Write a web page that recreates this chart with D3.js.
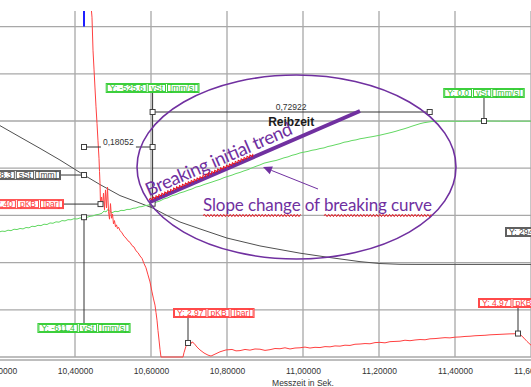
<!DOCTYPE html>
<html>
<head>
<meta charset="utf-8">
<script src="https://cdn.jsdelivr.net/npm/d3@7"></script>
<style>
  html, body { margin: 0; padding: 0; background: #fff; }
  svg { display: block; }
  .tag { font-family: "Liberation Sans", Arial, sans-serif; font-size: 8.5px; }
</style>
</head>
<body>
<svg id="chart" width="531" height="387"></svg>
<script>
// ---- time axis (s) and grid steps ----
const timeTicks = [10.2, 10.4, 10.6, 10.8, 11.0, 11.2, 11.4, 11.6];
const pressureGrid = [0, 10, 20, 30, 40, 50, 60, 70];

// ---- pKB brake pressure [bar] over time [s] ----
const pressureKB = [
  [10.4400, 76.5], [10.4447, 72.0], [10.4474, 65.0], [10.4500, 61.0], [10.4526, 57.0],
  [10.4553, 53.0], [10.4579, 49.5], [10.4605, 45.8], [10.4632, 42.0], [10.4645, 39.3],
  [10.4658, 36.8], [10.4671, 32.4], [10.4699, 33.9], [10.4724, 31.8], [10.4750, 34.7],
  [10.4776, 31.2], [10.4803, 35.4], [10.4829, 31.6], [10.4855, 36.0], [10.4882, 30.8],
  [10.4908, 29.2], [10.4934, 32.5], [10.4961, 29.4], [10.4987, 30.3], [10.5013, 28.2],
  [10.5039, 28.9], [10.5066, 27.6], [10.5092, 28.0], [10.5118, 27.2], [10.5145, 27.5],
  [10.5184, 26.8], [10.5237, 26.3], [10.5289, 25.6], [10.5342, 25.2], [10.5395, 24.6],
  [10.5447, 24.3], [10.5500, 23.6], [10.5553, 23.3], [10.5605, 22.5], [10.5658, 22.1],
  [10.5711, 21.4], [10.5763, 20.9], [10.5816, 19.8], [10.5868, 18.9], [10.5921, 17.4],
  [10.5974, 15.9], [10.6026, 13.8], [10.6066, 12.3], [10.6105, 11.0], [10.6132, 9.4],
  [10.6158, 7.8], [10.6184, 5.6], [10.6211, 3.6], [10.6237, 1.6], [10.6263, 0.0],
  [10.6842, 0.0], [10.6868, 0.9], [10.6921, 2.3], [10.6974, 2.97], [10.7026, 2.5],
  [10.7079, 3.2], [10.7132, 2.9], [10.7211, 2.1], [10.7289, 1.5], [10.7395, 0.85],
  [10.7500, 0.4], [10.7579, 0.2], [10.7684, 0.6], [10.7816, 1.1], [10.7974, 1.5],
  [10.8132, 1.6], [10.8237, 1.3], [10.8342, 1.35], [10.8474, 1.6], [10.8605, 1.45],
  [10.8737, 1.7], [10.8868, 1.65], [10.9000, 1.4], [10.9132, 1.55], [10.9263, 1.8],
  [10.9395, 1.75], [10.9526, 1.95], [10.9658, 1.7], [10.9789, 1.9], [10.9921, 1.95],
  [11.0053, 2.1], [11.0184, 1.9], [11.0316, 2.05], [11.0447, 2.0], [11.0579, 2.2],
  [11.0711, 2.15], [11.0842, 2.35], [11.0974, 2.3], [11.1105, 2.5], [11.1237, 2.45],
  [11.1368, 2.7], [11.1500, 2.75], [11.1632, 2.85], [11.1763, 2.8], [11.1895, 3.05],
  [11.2026, 3.1], [11.2158, 3.0], [11.2289, 3.25], [11.2421, 3.3], [11.2553, 3.35],
  [11.2684, 3.55], [11.2816, 3.45], [11.2947, 3.6], [11.3079, 3.7], [11.3211, 3.65],
  [11.3342, 3.85], [11.3474, 3.9], [11.3605, 4.0], [11.3737, 4.1], [11.3868, 4.05],
  [11.4000, 4.2], [11.4132, 4.25], [11.4263, 4.35], [11.4395, 4.4], [11.4526, 4.5],
  [11.4658, 4.55], [11.4789, 4.6], [11.4921, 4.7], [11.5053, 4.75], [11.5184, 4.8],
  [11.5316, 4.85], [11.5447, 4.9], [11.5553, 4.92], [11.5658, 4.97], [11.5737, 4.6],
  [11.5816, 4.0], [11.5895, 3.3], [11.6000, 2.5], [11.6100, 1.8]
];

// ---- vSt piston speed [mm/s] over time [s] ----
const velocitySt = [
  [10.2000, -706], [10.2079, -700], [10.2158, -702], [10.2237, -694], [10.2316, -697],
  [10.2395, -688], [10.2474, -690], [10.2553, -683], [10.2632, -686], [10.2711, -677],
  [10.2789, -679], [10.2868, -669], [10.2947, -671], [10.3026, -663], [10.3105, -665],
  [10.3184, -656], [10.3263, -658], [10.3342, -648], [10.3421, -650], [10.3500, -641],
  [10.3579, -643], [10.3658, -633], [10.3737, -635], [10.3816, -627], [10.3895, -628],
  [10.3974, -621], [10.4053, -623], [10.4132, -616], [10.4184, -618], [10.4237, -611.4],
  [10.4316, -612], [10.4395, -606], [10.4474, -603], [10.4553, -596], [10.4632, -593],
  [10.4711, -586], [10.4763, -572], [10.4816, -578], [10.4868, -562], [10.4921, -575],
  [10.4974, -583], [10.5053, -574], [10.5132, -576], [10.5211, -568], [10.5289, -569],
  [10.5368, -562], [10.5447, -562], [10.5526, -555], [10.5605, -553], [10.5684, -546],
  [10.5763, -544], [10.5842, -538], [10.5921, -535], [10.6000, -529], [10.60422, -525.6],
  [10.6132, -516], [10.6237, -508], [10.6342, -495], [10.6447, -488], [10.6553, -475],
  [10.6658, -468], [10.6763, -457], [10.6868, -450], [10.6974, -440], [10.7079, -432],
  [10.7184, -420], [10.7289, -414], [10.7395, -404], [10.7500, -396], [10.7605, -388],
  [10.7711, -379], [10.7816, -371], [10.7921, -360], [10.8026, -352], [10.8132, -344],
  [10.8237, -334], [10.8342, -327], [10.8447, -317], [10.8553, -309], [10.8658, -298],
  [10.8763, -288], [10.8868, -279], [10.8974, -268], [10.9079, -262], [10.9184, -256],
  [10.9289, -251], [10.9395, -243], [10.9500, -234], [10.9605, -228], [10.9711, -218],
  [10.9816, -212], [10.9921, -203], [11.0026, -198], [11.0132, -193], [11.0237, -186],
  [11.0342, -182], [11.0447, -175], [11.0553, -171], [11.0658, -162], [11.0763, -157],
  [11.0868, -150], [11.0974, -144], [11.1079, -135], [11.1184, -131], [11.1289, -124],
  [11.1395, -120], [11.1500, -113], [11.1605, -109], [11.1711, -104], [11.1816, -100],
  [11.1921, -95], [11.2026, -90], [11.2132, -84], [11.2237, -78], [11.2342, -72],
  [11.2447, -65], [11.2553, -57], [11.2658, -50], [11.2763, -42], [11.2868, -33],
  [11.2974, -25], [11.3079, -17], [11.3184, -11], [11.3289, -7], [11.3395, -3],
  [11.3500, -2], [11.3800, -1], [11.4200, -2], [11.4763, 0], [11.5200, -1], [11.6000, -1]
];

// ---- sSt piston stroke [mm] over time [s] ----
const strokeSt = [
  [10.2000, 737], [10.2553, 699], [10.3079, 663], [10.3605, 626], [10.4237, 578.3],
  [10.4658, 548], [10.5184, 513], [10.5711, 489], [10.6053, 473], [10.6368, 453],
  [10.6763, 429], [10.7289, 407], [10.8000, 378], [10.8868, 353], [10.9921, 330],
  [11.0711, 316], [11.1500, 303], [11.2026, 297], [11.2553, 294.6], [11.3000, 294.3],
  [11.6000, 294.2]
];

// ---- time cursors: first cursor and the two measured intervals [s] ----
const cursorStart = 10.4237;
const cursorDeltas = [0.18052, 0.72922];

// ---- cursor read-outs ----
const readingSeries = ["vSt", "sSt", "pKB", "vSt", "vSt", "pKB", "pKB", "sSt"];
const readingTimes  = [10.4237, 10.4237, 10.4671, 10.60422, 11.4763, 10.6974, 11.5658, 11.66];
const readingValues = [-611.4, 578.3, 32.40, -525.6, 0.0, 2.97, 4.97, 294.2];
const seriesUnits = { vSt: "[mm/s]", sSt: "[mm]", pKB: "[bar]" };
const seriesDecimals = { vSt: 1, sSt: 1, pKB: 2 };

// ---- hand-drawn annotation, given in time [s] / pressure-grid [bar] units ----
const trendLine = [[10.5974, 32.84], [11.1500, 52.12]];
const highlightEllipse = { t: 10.9829, p: 40.25, rt: 0.4197, rp: 19.49 };
const arrowLine = [[11.0395, 35.59], [10.8947, 40.25]];
const slopeNoteAt = [10.7368, 30.93];

// ---------------------------------------------------------------------------
const locale = d3.formatLocale({ decimal: ",", thousands: ".", grouping: [3], currency: ["", " €"], minus: "-" });
const fmtTick = locale.format(".5f");

const svg = d3.select("#chart");
const PLOT = { left: 0, right: 531, top: 11, bottom: 357 };

const x = d3.scaleLinear().domain([10.2, 11.6]).range([-1, 531]);
const yP = d3.scaleLinear().domain([0, 70]).range([357, 26.6]);
const yV = d3.scaleLinear().domain([-1500, 600]).range([357, 26.6]);
const yS = d3.scaleLinear().domain([0, 1050]).range([357, 26.6]);
const yOf = { pKB: yP, vSt: yV, sSt: yS };

const PURPLE = "#7030a0";
const GRID = "#a8a8a8";
const INK = "#333";

svg.append("defs").append("clipPath").attr("id", "plotClip")
  .append("rect").attr("x", PLOT.left).attr("y", PLOT.top)
  .attr("width", PLOT.right - PLOT.left).attr("height", PLOT.bottom - PLOT.top + 2);

// grid
const grid = svg.append("g").attr("stroke", GRID).attr("stroke-width", 1.3);
grid.selectAll("line.v").data(timeTicks).join("line").attr("class", "v")
  .attr("x1", d => x(d)).attr("x2", d => x(d))
  .attr("y1", PLOT.top).attr("y2", PLOT.bottom);
grid.selectAll("line.h").data(pressureGrid).join("line").attr("class", "h")
  .attr("x1", PLOT.left).attr("x2", PLOT.right)
  .attr("y1", d => yP(d)).attr("y2", d => yP(d));
grid.append("line").attr("x1", PLOT.left).attr("x2", PLOT.right)
  .attr("y1", yP(0) + 3).attr("y2", yP(0) + 3);

// time axis
const axis = d3.axisBottom(x).tickValues(timeTicks).tickSize(0).tickPadding(8).tickFormat(fmtTick);
const ax = svg.append("g").attr("transform", `translate(0,${yP(0) + 3})`).call(axis);
ax.select(".domain").remove();
ax.selectAll("text").attr("font-family", "'Liberation Sans', Arial, sans-serif")
  .attr("font-size", 8.5).attr("fill", INK);
svg.append("text").attr("x", x(11.0)).attr("y", 386).attr("text-anchor", "middle")
  .attr("font-family", "'Liberation Sans', Arial, sans-serif").attr("font-size", 8.5)
  .attr("fill", INK).text("Messzeit in Sek.");

// series
const plot = svg.append("g").attr("clip-path", "url(#plotClip)");
const lineOf = yScale => d3.line().x(d => x(d[0])).y(d => yScale(d[1]));
plot.append("path").datum(strokeSt).attr("d", lineOf(yS))
  .attr("fill", "none").attr("stroke", "#505050").attr("stroke-width", 1);
plot.append("path").datum(velocitySt).attr("d", lineOf(yV))
  .attr("fill", "none").attr("stroke", "#62d862").attr("stroke-width", 1);
plot.append("path").datum(pressureKB).attr("d", lineOf(yP))
  .attr("fill", "none").attr("stroke", "#ff4040").attr("stroke-width", 1);

// cursors
const cursorTimes = [cursorStart, cursorStart + cursorDeltas[0], cursorStart + cursorDeltas[0] + cursorDeltas[1]];
svg.append("line").attr("x1", x(cursorTimes[0])).attr("x2", x(cursorTimes[0]))
  .attr("y1", PLOT.top).attr("y2", yP(70)).attr("stroke", "#1f1fff").attr("stroke-width", 2);

const over = svg.append("g");
const markers = [];

// interval dimension lines
const dimRows = [147, 112];
cursorDeltas.forEach((dt, i) => {
  const x0 = x(cursorTimes[i]), x1 = x(cursorTimes[i + 1]), yy = dimRows[i];
  over.append("line").attr("x1", x0).attr("x2", x1).attr("y1", yy).attr("y2", yy)
    .attr("stroke", INK).attr("stroke-width", 1);
  markers.push([x0, yy], [x1, yy]);
  const t = over.append("text").attr("x", (x0 + x1) / 2).attr("y", yy - 2.5)
    .attr("text-anchor", "middle").attr("font-family", "'Liberation Sans', Arial, sans-serif")
    .attr("font-size", 8.5).attr("fill", INK).text(locale.format(".5f")(dt));
  if (i === 0) {
    const bb = t.node().getBBox();
    over.insert("rect", "text").attr("x", bb.x - 2).attr("y", bb.y).attr("width", bb.width + 4)
      .attr("height", yy - bb.y + 1.5).attr("fill", "#fff");
    t.raise();
  }
});
over.append("text").attr("x", (x(cursorTimes[1]) + x(cursorTimes[2])) / 2).attr("y", 126)
  .attr("text-anchor", "middle").attr("font-family", "'Liberation Sans', Arial, sans-serif")
  .attr("font-size", 12).attr("font-weight", "bold").attr("fill", "#1a1a1a").text("Reibzeit");

// read-out tags
const TAG_H = 10;
const tagColors = {
  vSt: { stroke: "#3ccf3c", text: "#2fbf2f" },
  pKB: { stroke: "#ff4a4a", text: "#ff3a3a" },
  sSt: { stroke: "#606060", text: "#444" }
};
function makeTag(parts, col) {
  const g = over.append("g");
  let cx = 1;
  parts.forEach(p => {
    const t = g.append("text").attr("class", "tag").attr("fill", col.text).text(p);
    const w = t.node().getComputedTextLength();
    g.insert("rect", "text").attr("x", cx + 0.5).attr("y", 1.5).attr("width", w + 5)
      .attr("height", TAG_H - 3).attr("fill", "none").attr("stroke", col.stroke).attr("stroke-width", 1);
    t.attr("x", cx + 3).attr("y", TAG_H - 2);
    cx += w + 6 + 1;
  });
  const W = cx;
  g.insert("rect", ":first-child").attr("x", 0.5).attr("y", 0.5).attr("width", W - 1)
    .attr("height", TAG_H - 1).attr("fill", "#fff").attr("stroke", col.stroke).attr("stroke-width", 1);
  return { g, W };
}
// tag placement: mode, and pixel anchor
const readingPlacement = [
  { mode: "below", top: 323 },
  { mode: "left", right: 61 },
  { mode: "left", right: 64 },
  { mode: "above", top: 83 },
  { mode: "above", top: 88 },
  { mode: "aboveShift", top: 308, shift: 15 },
  { mode: "aboveShift", top: 298, shift: 40 },
  { mode: "free", left: 505, top: 227 }
];
readingSeries.forEach((s, i) => {
  const mx = x(readingTimes[i]), my = yOf[s](readingValues[i]);
  const label = "Y: " + locale.format(`.${seriesDecimals[s]}f`)(readingValues[i]);
  const { g, W } = makeTag([label, s, seriesUnits[s]], tagColors[s]);
  const pl = readingPlacement[i];
  let gx, gy, lead = null;
  if (pl.mode === "below") { gx = mx - W / 2; gy = pl.top; lead = [mx, gy, mx, my]; }
  else if (pl.mode === "above") { gx = mx - W / 2; gy = pl.top; lead = [mx, gy + TAG_H, mx, my]; }
  else if (pl.mode === "aboveShift") { gx = mx - pl.shift; gy = pl.top; lead = [mx, gy + TAG_H, mx, my]; }
  else if (pl.mode === "left") { gx = pl.right - W; gy = my - TAG_H / 2; lead = [pl.right, my, mx, my]; }
  else { gx = pl.left; gy = pl.top; }
  g.attr("transform", `translate(${gx},${gy})`);
  if (lead) {
    over.insert("line", ":first-child").attr("x1", lead[0]).attr("y1", lead[1])
      .attr("x2", lead[2]).attr("y2", lead[3]).attr("stroke", INK).attr("stroke-width", 1);
    markers.push([mx, my]);
  }
});

over.selectAll("rect.mk").data(markers).join("rect").attr("class", "mk")
  .attr("x", d => d[0] - 2.5).attr("y", d => d[1] - 2.5).attr("width", 5).attr("height", 5)
  .attr("fill", "#fff").attr("stroke", "#404040").attr("stroke-width", 1);

// ---- annotation layer ----
const note = svg.append("g");
function wave(x0, x1, y) {
  let d = `M${x0},${y}`;
  let up = true;
  for (let xx = x0 + 1.6; xx <= x1; xx += 1.6) { d += `L${xx},${y + (up ? -1.1 : 1.1)}`; up = !up; }
  return d;
}

// highlighted region
const E = highlightEllipse;
note.append("ellipse").attr("cx", x(E.t)).attr("cy", yP(E.p))
  .attr("rx", x(E.t + E.rt) - x(E.t)).attr("ry", yP(E.p) - yP(E.p + E.rp))
  .attr("fill", "none").attr("stroke", PURPLE).attr("stroke-width", 1.6);

// initial trend line with rotated caption
const [ta, tb] = trendLine;
const ax0 = x(ta[0]), ay0 = yP(ta[1]), ax1 = x(tb[0]), ay1 = yP(tb[1]);
note.append("line").attr("x1", ax0).attr("y1", ay0).attr("x2", ax1).attr("y2", ay1)
  .attr("stroke", PURPLE).attr("stroke-width", 4).attr("stroke-linecap", "butt");
const ang = Math.atan2(ay1 - ay0, ax1 - ax0) * 180 / Math.PI;
const rot = note.append("g").attr("transform", `translate(${ax0},${ay0}) rotate(${ang})`);
const trendText = rot.append("text").attr("x", 1).attr("y", -5.5)
  .attr("font-family", "Lato, 'Open Sans', sans-serif").attr("font-size", 18.5)
  .attr("fill", PURPLE).attr("textLength", 158).attr("lengthAdjust", "spacing")
  .text("Breaking initial trend");
const endInitial = trendText.node().getEndPositionOfChar(15).x;
rot.append("path").attr("d", wave(0, endInitial, -2.2))
  .attr("fill", "none").attr("stroke", "#e8101a").attr("stroke-width", 1);

// arrow pointing at the slope change
const [aStart, aEnd] = arrowLine;
const sx = x(aStart[0]), sy = yP(aStart[1]), ex = x(aEnd[0]), ey = yP(aEnd[1]);
const aAng = Math.atan2(ey - sy, ex - sx);
const headLen = 9, headHalf = 4.2;
const bx = ex - headLen * Math.cos(aAng), by = ey - headLen * Math.sin(aAng);
note.append("line").attr("x1", sx).attr("y1", sy).attr("x2", bx).attr("y2", by)
  .attr("stroke", PURPLE).attr("stroke-width", 1);
note.append("path").attr("d",
  `M${ex},${ey}L${bx - headHalf * Math.sin(aAng)},${by + headHalf * Math.cos(aAng)}` +
  `L${bx + headHalf * Math.sin(aAng)},${by - headHalf * Math.cos(aAng)}Z`)
  .attr("fill", PURPLE);

// slope-change caption with spell-check underlines
const slopeText = note.append("text").attr("x", x(slopeNoteAt[0])).attr("y", yP(slopeNoteAt[1]))
  .attr("font-family", "Lato, 'Open Sans', sans-serif").attr("font-size", 17)
  .attr("fill", PURPLE).attr("textLength", 229).attr("lengthAdjust", "spacing")
  .text("Slope change of breaking curve");
const sn = slopeText.node();
const uy = yP(slopeNoteAt[1]) + 4.5;
[[0, 11], [16, 29]].forEach(([a, b]) => {
  note.append("path").attr("d", wave(sn.getStartPositionOfChar(a).x, sn.getEndPositionOfChar(b).x, uy))
    .attr("fill", "none").attr("stroke", "#e8101a").attr("stroke-width", 1);
});
</script>
</body>
</html>
